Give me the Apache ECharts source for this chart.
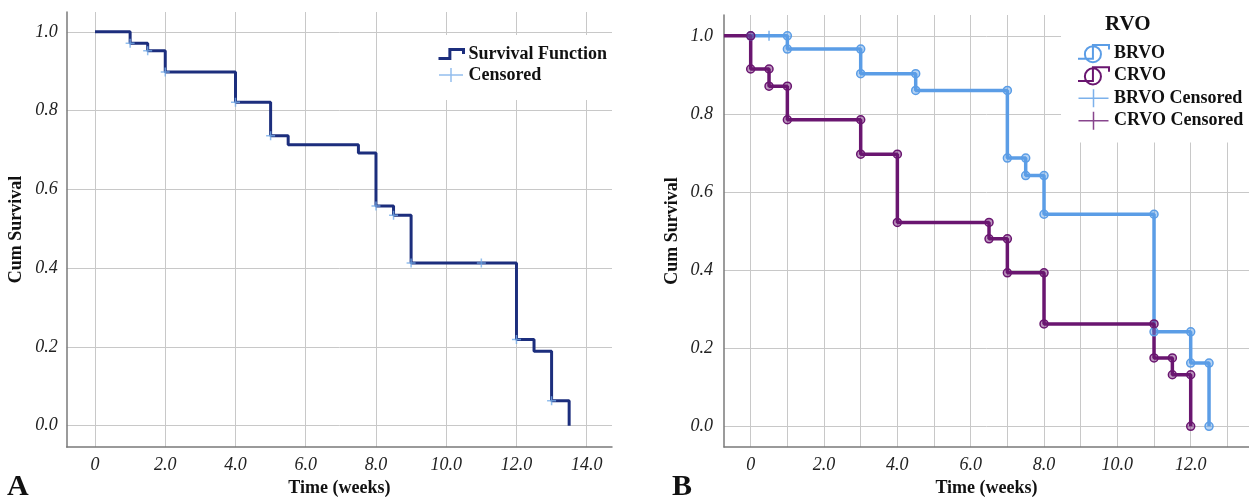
<!DOCTYPE html>
<html>
<head>
<meta charset="utf-8">
<script src="https://cdn.jsdelivr.net/npm/echarts@6/dist/echarts.min.js"></script>
<style>
html, body { margin: 0; padding: 0; background: #fff; }
#main { width: 1249px; height: 502px; }
</style>
</head>
<body>
<div id="main"></div>
<script>
// panel A : overall survival
var kmTime = [0, 1, 1.5, 2, 4, 5, 5.5, 7.5, 8, 8.5, 9, 12, 12.5, 13, 13.5];
var kmSurv = [1.0, 0.971, 0.952, 0.898, 0.821, 0.736, 0.713, 0.692, 0.558, 0.534, 0.413, 0.219, 0.189, 0.063, 0.0];
var censTime = [1, 1.5, 2, 4, 5, 8, 8.5, 9, 11, 12, 13];
var censSurv = [0.971, 0.952, 0.898, 0.821, 0.736, 0.558, 0.534, 0.413, 0.413, 0.219, 0.063];

// panel B : by RVO type
var brvoTime = [0, 1, 3, 4.5, 7, 7.5, 8, 11, 12, 12.5];
var brvoSurv = [1.0, 0.966, 0.903, 0.860, 0.687, 0.642, 0.543, 0.242, 0.162, 0.0];
var crvoTime = [-0.73, 0, 0.5, 1, 3, 4, 6.5, 7, 8, 11, 11.5, 12];
var crvoSurv = [1.0, 0.915, 0.871, 0.785, 0.697, 0.522, 0.480, 0.393, 0.262, 0.175, 0.132, 0.0];
var brvoCensTime = [0.5];
var brvoCensSurv = [1.0];
var crvoCensTime = [];
var crvoCensSurv = [];

// ticks
var yTicks = [0, 0.2, 0.4, 0.6, 0.8, 1.0];
var xTicksA = [0, 2, 4, 6, 8, 10, 12, 14];
var xGridB = [0, 1, 2, 3, 4, 5, 6, 7, 8, 9, 10, 11, 12, 13];
var xLabelsB = [0, 2, 4, 6, 8, 10, 12];

var serif = '"Liberation Serif", "Times New Roman", serif';
var navy = '#1c2e7d';
var lightBlue = '#78aee8';
var blue = '#5b9de6';
var purple = '#6a1670';

var plusPath = 'path://M0,5 L10,5 M5,0 L5,10';
var plusIconA = 'path://M0,7 L24,7 M12,0 L12,14';
var plusIconB = 'path://M0,9 L30,9 M15,0 L15,18';
var stepIcon = 'path://M0,9 L10,9 L10,1 L22,1 L22,5';
var circleStepIcon = 'path://M0,15 L13,15 L13,3 L27,3 L27,7 M20,11 A7,7 0 1 1 6,11 A7,7 0 1 1 20,11';

function zip(xs, ys) {
    return xs.map(function (x, i) { return [x, ys[i]]; });
}

// KM curve as corner points so every corner gets a circle
function stepPoints(xs, ys, firstNoSymbol) {
    var pts = [];
    pts.push(firstNoSymbol ? { value: [xs[0], ys[0]], symbol: 'none' } : [xs[0], ys[0]]);
    for (var i = 1; i < xs.length; i++) {
        pts.push([xs[i], ys[i - 1]]);
        pts.push([xs[i], ys[i]]);
    }
    return pts;
}

function fmtX(v) { return v === 0 ? '0' : v.toFixed(1); }
function fmtY(v) { return v.toFixed(1); }

function xAxisOf(grid, min, max, grids, labels, gap) {
    return {
        type: 'value', gridIndex: grid, min: min, max: max,
        name: 'Time (weeks)', nameLocation: 'middle', nameGap: gap,
        nameTextStyle: { fontFamily: serif, fontWeight: 'bold', fontSize: 18, color: '#111' },
        axisLine: { show: true, onZero: false, lineStyle: { color: '#7a7a7a', width: 1.5 } },
        axisTick: { show: false, customValues: grids },
        axisLabel: {
            customValues: labels, formatter: fmtX, margin: 9,
            fontFamily: serif, fontStyle: 'italic', fontSize: 18, color: '#222'
        },
        splitLine: { show: true, lineStyle: { color: '#c8c8c8', width: 1 } }
    };
}

function yAxisOf(grid, min, max, gap, margin) {
    return {
        type: 'value', gridIndex: grid, min: min, max: max,
        name: 'Cum Survival', nameLocation: 'middle', nameGap: gap,
        nameTextStyle: { fontFamily: serif, fontWeight: 'bold', fontSize: 18, color: '#111' },
        axisLine: { show: true, onZero: false, lineStyle: { color: '#7a7a7a', width: 1.5 } },
        axisTick: { show: false, customValues: yTicks },
        axisLabel: {
            customValues: yTicks, formatter: fmtY, margin: margin,
            fontFamily: serif, fontStyle: 'italic', fontSize: 18, color: '#222'
        },
        splitLine: { show: true, lineStyle: { color: '#c8c8c8', width: 1 } }
    };
}

var legendText = { fontFamily: serif, fontWeight: 'bold', fontSize: 18, color: '#111' };

var chart = echarts.init(document.getElementById('main'));
var option = {
    animation: false,
    backgroundColor: '#fff',
    title: [
        { text: 'A', left: 7, top: 472, padding: 0,
          textStyle: { fontFamily: serif, fontWeight: 'bold', fontSize: 30, color: '#111' } },
        { text: 'B', left: 672, top: 472, padding: 0,
          textStyle: { fontFamily: serif, fontWeight: 'bold', fontSize: 30, color: '#111' } },
        { text: 'RVO', left: 1105, top: 14, padding: 0,
          textStyle: { fontFamily: serif, fontWeight: 'bold', fontSize: 21, color: '#111' } }
    ],
    grid: [
        { left: 66.7, top: 12, width: 545.3, height: 439.7 },
        { left: 724, top: 15, width: 525, height: 436 }
    ],
    xAxis: [
        xAxisOf(0, -0.806, 14.72, xTicksA, xTicksA, 31),
        xAxisOf(1, -0.728, 13.59, xGridB, xLabelsB, 31)
    ],
    yAxis: [
        yAxisOf(0, -0.0545, 1.0503, 41, 9),
        yAxisOf(1, -0.0533, 1.0533, 43, 11)
    ],
    legend: [
        {
            orient: 'vertical', left: 433, top: 35, padding: [10, 10, 16, 4],
            backgroundColor: '#fff', itemWidth: 25, itemHeight: 14, itemGap: 3,
            textStyle: legendText,
            data: [
                { name: 'Survival Function', icon: stepIcon,
                  itemStyle: { color: 'rgba(0,0,0,0)', borderColor: navy, borderWidth: 3 } },
                { name: 'Censored', icon: plusIconA,
                  itemStyle: { color: 'rgba(0,0,0,0)', borderColor: lightBlue, borderWidth: 1.5 } }
            ]
        },
        {
            orient: 'vertical', left: 1061, top: 15, padding: [29, 8, 12, 16],
            backgroundColor: '#fff', itemWidth: 31, itemHeight: 18, itemGap: 3,
            textStyle: legendText,
            data: [
                { name: 'BRVO', icon: circleStepIcon,
                  itemStyle: { color: 'rgba(0,0,0,0)', borderColor: blue, borderWidth: 2 } },
                { name: 'CRVO', icon: circleStepIcon,
                  itemStyle: { color: 'rgba(0,0,0,0)', borderColor: purple, borderWidth: 2 } },
                { name: 'BRVO Censored', icon: plusIconB,
                  itemStyle: { color: 'rgba(0,0,0,0)', borderColor: blue, borderWidth: 1.5 } },
                { name: 'CRVO Censored', icon: plusIconB,
                  itemStyle: { color: 'rgba(0,0,0,0)', borderColor: purple, borderWidth: 1.5 } }
            ]
        }
    ],
    series: [
        {
            name: 'Survival Function', type: 'line', xAxisIndex: 0, yAxisIndex: 0,
            step: 'end', showSymbol: false, symbol: 'none',
            data: zip(kmTime, kmSurv),
            lineStyle: { color: navy, width: 3 },
            itemStyle: { color: navy }
        },
        {
            name: 'Censored', type: 'scatter', xAxisIndex: 0, yAxisIndex: 0,
            symbol: plusPath, symbolSize: 9,
            data: zip(censTime, censSurv),
            itemStyle: { color: 'rgba(0,0,0,0)', borderColor: lightBlue, borderWidth: 1.5 },
            z: 3
        },
        {
            name: 'BRVO', type: 'line', xAxisIndex: 1, yAxisIndex: 1,
            symbol: 'circle', symbolSize: 8,
            data: stepPoints(brvoTime, brvoSurv, false),
            lineStyle: { color: blue, width: 3.5 },
            itemStyle: { color: 'rgba(91,157,230,0.45)', borderColor: blue, borderWidth: 1.5 }
        },
        {
            name: 'CRVO', type: 'line', xAxisIndex: 1, yAxisIndex: 1,
            symbol: 'circle', symbolSize: 8,
            data: stepPoints(crvoTime, crvoSurv, true),
            lineStyle: { color: purple, width: 3.5 },
            itemStyle: { color: 'rgba(106,22,112,0.45)', borderColor: purple, borderWidth: 1.5 }
        },
        {
            name: 'BRVO Censored', type: 'scatter', xAxisIndex: 1, yAxisIndex: 1,
            symbol: plusPath, symbolSize: 10,
            data: zip(brvoCensTime, brvoCensSurv),
            itemStyle: { color: 'rgba(0,0,0,0)', borderColor: blue, borderWidth: 1.5 },
            z: 3
        },
        {
            name: 'CRVO Censored', type: 'scatter', xAxisIndex: 1, yAxisIndex: 1,
            symbol: plusPath, symbolSize: 10,
            data: zip(crvoCensTime, crvoCensSurv),
            itemStyle: { color: 'rgba(0,0,0,0)', borderColor: purple, borderWidth: 1.5 },
            z: 3
        }
    ]
};
chart.setOption(option);
</script>
</body>
</html>
